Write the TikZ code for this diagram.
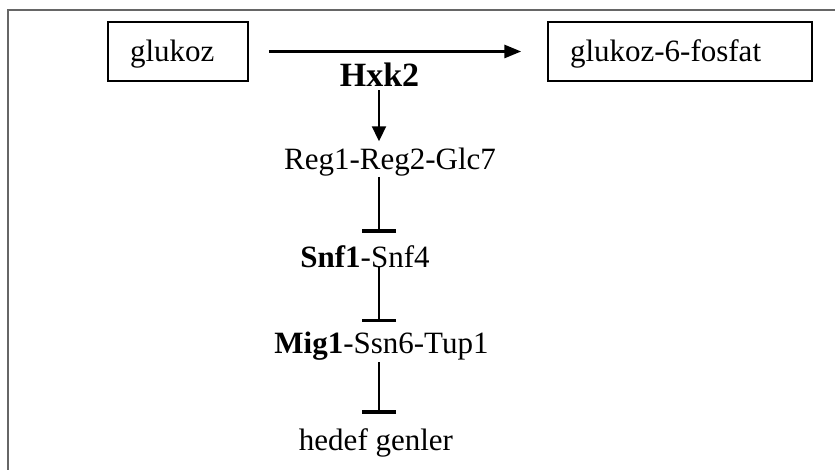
\documentclass[tikz,border=0pt]{standalone}
\usepackage{fontspec}
\setmainfont{Liberation Serif}
\usetikzlibrary{arrows.meta}

\begin{document}
\begin{tikzpicture}[x=1pt,y=-1pt,
  every node/.style={font=\fontsize{31}{36}\selectfont},
  label/.style={inner sep=0pt, anchor=base},
  metab/.style={draw, line width=1.5pt, align=left, inner xsep=22pt,
    minimum height=59pt, text height=23pt, text depth=2pt},
  act/.style={line width=2pt, -{Triangle[length=15pt,width=14pt]}},
  inh/.style={line width=1.2pt, -{Bar[width=34pt,line width=3.5pt]}}
]
% page area and frame
\useasboundingbox (0,0) rectangle (835,470);
\draw[black!60, line width=2pt] (8,470) -- (8,10) -- (835,10);

% metabolites
\node[metab, text width=96pt]  (glc) at (178,51.5) {glukoz};
\node[metab, text width=220pt] (g6p) at (680,51.5) {glukoz-6-fosfat};

% regulatory cascade
\node[label, font=\fontsize{34}{38}\selectfont\bfseries] (hxk) at (379.5,87) {Hxk2};
\node[label] (reg)   at (390,170)   {Reg1-Reg2-Glc7};
\node[label] (snf)   at (365,268)   {\textbf{Snf1}-Snf4};
\node[label] (mig)   at (381.5,353) {\textbf{Mig1}-Ssn6-Tup1};
\node[label] (genes) at (376,450)   {hedef genler};

\coordinate (col) at (379,0);

% phosphorylation step
\draw[line width=3pt, -{Triangle[length=17pt,width=13pt]},
      shorten <=20pt, shorten >=26pt] (glc.east) -- (g6p.west);

% signalling connectors
\draw[act, shorten <=3pt, shorten >=7pt] (hxk.south -| col) -- (reg.north -| col);
\draw[inh, shorten >=13pt] (reg.south -| col) -- (snf.north -| col);
\draw[inh, shorten <=-2pt, shorten >=9pt] (snf.south -| col) -- (mig.north -| col);
\draw[inh, shorten <=2pt, shorten >=14pt] (mig.south -| col) -- (genes.north -| col);
\end{tikzpicture}
\end{document}
